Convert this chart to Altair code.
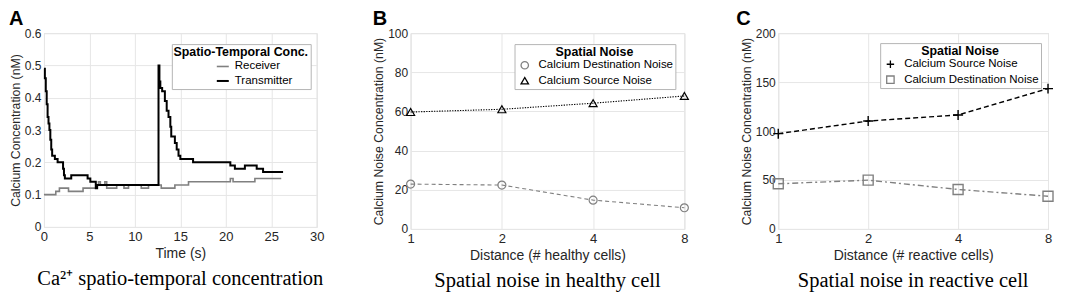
import altair as alt
import pandas as pd

# ---------------- Panel A data (step functions) ----------------
trans_t = [0, 0.1, 0.2, 0.3, 0.4, 0.5, 0.6, 0.7, 0.8, 0.9, 1.2, 1.5, 2.1, 2.2, 2.3, 3.0, 4.8, 5.1, 5.7, 5.85,
           12.6, 12.7, 12.8, 13.0, 13.3, 13.5, 13.7, 13.9, 14.0, 14.4, 14.6, 14.8, 15.0, 16.4, 20.5, 21.0, 22.1,
           23.4, 24.1, 26.3]
trans_v = [0.49, 0.46, 0.42, 0.38, 0.34, 0.32, 0.30, 0.27, 0.24, 0.22, 0.21, 0.20, 0.18, 0.16, 0.15, 0.16,
           0.15, 0.14, 0.12, 0.13,
           0.50, 0.45, 0.43, 0.42, 0.39, 0.36, 0.34, 0.31, 0.28, 0.26, 0.24, 0.22, 0.21, 0.20, 0.19, 0.18, 0.19,
           0.18, 0.17, 0.17]

recv_t = [0, 1.3, 1.7, 2.7, 4.3, 5.8, 6.0, 6.2, 6.7, 6.9, 8.0, 8.8, 9.3, 10.7, 11.5, 12.9, 14.4, 15.9, 20.5,
          20.8, 23.2, 26.1]
recv_v = [0.10, 0.11, 0.12, 0.11, 0.12, 0.13, 0.14, 0.13, 0.14, 0.12, 0.13, 0.12, 0.13, 0.12, 0.13, 0.12,
          0.13, 0.14, 0.15, 0.14, 0.15, 0.15]

# ---------------- Panel B / C data ----------------
distance = [1, 2, 4, 8]
b_dest = [22.9, 22.4, 14.7, 10.8]
b_src = [59.7, 61.1, 64.2, 67.9]
c_src = [97.3, 110.2, 116.4, 143.3]
c_dest = [46.1, 49.8, 40.3, 33.4]

letters = ["A", "B", "C"]
captions = ["Ca\u00b2\u207a spatio-temporal concentration", "Spatial noise in healthy cell",
            "Spatial noise in reactive cell"]

SANS = "Liberation Sans"
SERIF = "Liberation Serif"
TXT = "#262626"
GRID = "#e6e6e6"
GRAY = "#808080"
BLACK = "#000000"


def legend(title, x, y, stype=None, soff=2.5, loff=8):
    kw = dict(title=title, orient="none", legendX=x, legendY=y, fillColor="white", strokeColor="#b5b5b5",
              padding=2, titleFont=SANS, titleFontSize=12.4, titleFontWeight="bold", titleColor="black",
              titleAnchor="middle", labelFont=SANS, labelFontSize=11.5, labelColor="black", rowPadding=1.5,
              titlePadding=1, symbolStrokeWidth=1.3, labelOffset=loff, symbolOffset=soff)
    if stype:
        kw["symbolType"] = stype
        kw["symbolSize"] = 144
    else:
        kw["symbolSize"] = 55
    return alt.Legend(**kw)


def yaxis(title, values, fmt):
    return alt.Axis(title=title, values=values, format=fmt, labelFont=SANS, labelFontSize=12,
                    labelColor=TXT, titleFont=SANS, titleFontSize=12.3, titleColor=TXT, titleFontWeight="normal",
                    ticks=False, labelPadding=3, titlePadding=2, domain=False, gridColor=GRID)


def xaxis(title, values, fmt):
    return alt.Axis(title=title, values=values, format=fmt, labelFont=SANS, labelFontSize=13,
                    labelColor=TXT, titleFont=SANS, titleFontSize=14, titleColor=TXT, titleFontWeight="normal",
                    ticks=False, labelPadding=4, titlePadding=3, domain=False, gridColor=GRID, labelFlush=False)


def letter_layer(letter, dx):
    return alt.Chart(pd.DataFrame({"t": [letter]})).mark_text(
        font=SANS, fontSize=20, fontWeight="bold", align="left", baseline="middle", color="black"
    ).encode(text="t:N", x=alt.value(dx), y=alt.value(-14))


def caption_title(text):
    return alt.TitleParams(text, orient="bottom", font=SERIF, fontSize=20.5, fontWeight="normal",
                           color="black", anchor="middle", offset=8)


def series_line(df, name, x, y, color, dash, width):
    return alt.Chart(df).transform_filter(alt.datum.s == name).mark_line(
        color=color, strokeDash=dash, strokeWidth=width).encode(x=x, y=y)


# ---------------- Panel A ----------------
dfa = pd.concat([
    pd.DataFrame({"t": recv_t, "v": recv_v, "s": "Receiver"}),
    pd.DataFrame({"t": trans_t, "v": trans_v, "s": "Transmitter"}),
])
line_a = alt.Chart(dfa).mark_line(interpolate="step-after").encode(
    x=alt.X("t:Q", scale=alt.Scale(domain=[0, 30], nice=False),
            axis=xaxis("Time (s)", [0, 5, 10, 15, 20, 25, 30], "d")),
    y=alt.Y("v:Q", scale=alt.Scale(domain=[0, 0.6], nice=False),
            axis=yaxis("Calcium Concentration (nM)", [0, 0.1, 0.2, 0.3, 0.4, 0.5, 0.6], ".1~f")),
    color=alt.Color("s:N", scale=alt.Scale(domain=["Receiver", "Transmitter"], range=[GRAY, BLACK]),
                    legend=legend("Spatio-Temporal Conc.", 128, 11, "stroke", soff=27, loff=5)),
    strokeWidth=alt.StrokeWidth("s:N", scale=alt.Scale(domain=["Receiver", "Transmitter"], range=[1.6, 2.0]),
                                legend=None),
    detail="s:N",
)
panel_a = alt.layer(line_a, letter_layer(letters[0], -35)).properties(
    width=273, height=194, title=caption_title(captions[0]))

# ---------------- Panel B ----------------
dfb = pd.concat([
    pd.DataFrame({"d": distance, "v": b_dest, "s": "Calcium Destination Noise"}),
    pd.DataFrame({"d": distance, "v": b_src, "s": "Calcium Source Noise"}),
])
b_dom = ["Calcium Destination Noise", "Calcium Source Noise"]
lg_b = legend("Spatial Noise", 104, 11)
xb = alt.X("d:Q", scale=alt.Scale(type="log", base=2, domain=[1, 8], nice=False),
           axis=xaxis("Distance (# healthy cells)", distance, "d"))
yb = alt.Y("v:Q", scale=alt.Scale(domain=[0, 100], nice=False),
           axis=yaxis("Calcium Noise Concentration (nM)", [0, 20, 40, 60, 80, 100], "d"))
lb1 = series_line(dfb, b_dom[0], xb, yb, GRAY, [4, 3], 1.1)
lb2 = series_line(dfb, b_dom[1], xb, yb, BLACK, [1.3, 1.3], 1.1)
pts_b = alt.Chart(dfb).mark_point(filled=False, size=64, strokeWidth=1.2, opacity=1).encode(
    x=xb, y=yb, color=alt.Color("s:N", scale=alt.Scale(domain=b_dom, range=[GRAY, BLACK]), legend=lg_b),
    shape=alt.Shape("s:N", scale=alt.Scale(domain=b_dom, range=["circle", "triangle-up"]), legend=lg_b),
)
panel_b = alt.layer(lb1, lb2, pts_b, letter_layer(letters[1], -38)).properties(
    width=274, height=196, title=caption_title(captions[1]))

# ---------------- Panel C ----------------
dfc = pd.concat([
    pd.DataFrame({"d": distance, "v": c_src, "s": "Calcium Source Noise"}),
    pd.DataFrame({"d": distance, "v": c_dest, "s": "Calcium Destination Noise"}),
])
c_dom = ["Calcium Source Noise", "Calcium Destination Noise"]
lg_c = legend("Spatial Noise", 102, 10)
xc = alt.X("d:Q", scale=alt.Scale(type="log", base=2, domain=[1, 8], nice=False),
           axis=xaxis("Distance (# reactive cells)", distance, "d"))
yc = alt.Y("v:Q", scale=alt.Scale(domain=[0, 200], nice=False),
           axis=yaxis("Calcium Noise Concentration (nM)", [0, 50, 100, 150, 200], "d"))
lc1 = series_line(dfc, c_dom[0], xc, yc, BLACK, [5, 3], 1.4)
lc2 = series_line(dfc, c_dom[1], xc, yc, GRAY, [6, 3, 2, 3], 1.4)
pts_c = alt.Chart(dfc).mark_point(filled=False, size=100, strokeWidth=1.4, opacity=1).encode(
    x=xc, y=yc, color=alt.Color("s:N", scale=alt.Scale(domain=c_dom, range=[BLACK, GRAY]), legend=lg_c),
    shape=alt.Shape("s:N", scale=alt.Scale(domain=c_dom, range=["M-1,0L1,0M0,-1L0,1", "square"]),
                    legend=lg_c),
)
panel_c = alt.layer(lc1, lc2, pts_c, letter_layer(letters[2], -42)).properties(
    width=270, height=196, title=caption_title(captions[2]))

chart = alt.hconcat(panel_a, panel_b, panel_c, spacing=94, bounds="flush").resolve_scale(
    color="independent", shape="independent", strokeWidth="independent"
).resolve_legend(
    color="independent", shape="independent"
).properties(
    padding={"left": 0, "top": 0, "right": 0, "bottom": 0},
).configure_view(stroke="#bdbdbd", strokeWidth=1).configure(background="white")

chart.save("out.html", embed_options={"renderer": "svg", "actions": False})
